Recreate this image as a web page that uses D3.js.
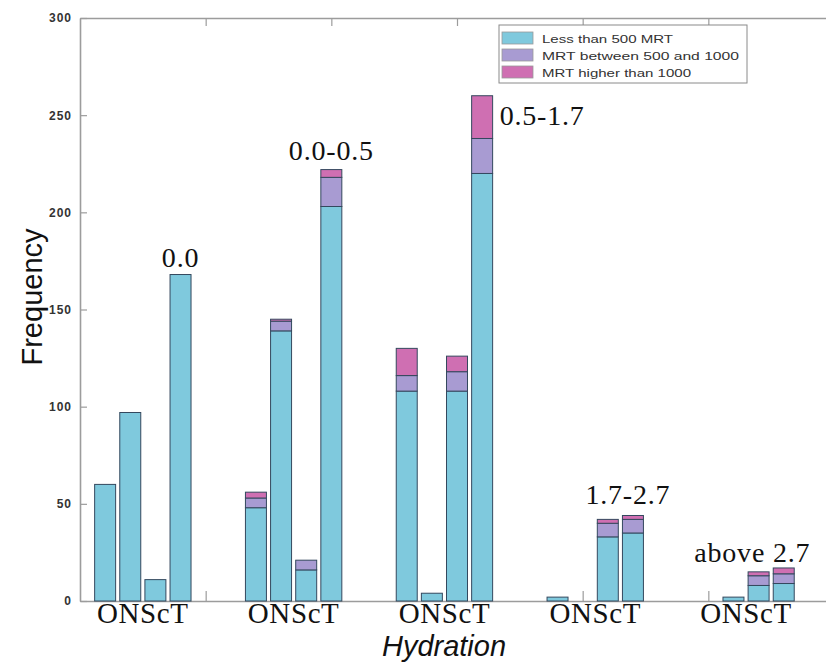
<!DOCTYPE html>
<html>
<head>
<meta charset="utf-8">
<script src="https://cdn.jsdelivr.net/npm/d3@7"></script>
<style>
  html, body { margin: 0; padding: 0; background: #fff; }
  svg { display: block; }
</style>
</head>
<body>
<svg id="chart" width="826" height="664"></svg>
<script>
// Hydration classes, one cluster of four bars (O, N, Sc, T) per class
const hydrationClasses = ["0.0", "0.0-0.5", "0.5-1.7", "1.7-2.7", "above 2.7"];
const clusterCentres = [0.5, 1.7, 2.9, 4.1, 5.3];
const clusterLabel = "ONScT";

// x value of every bar that is drawn
const barX = [0.2, 0.4, 0.6, 0.8,  1.4, 1.6, 1.8, 2.0,  2.6, 2.8, 3.0, 3.2,  3.8, 4.2, 4.4,  5.2, 5.4, 5.6];

// stacked frequencies per bar
const lessThan500       = [60, 97, 11, 168,  48, 139, 16, 203,  108, 4, 108, 220,  2, 33, 35,  2, 8, 9];
const between500And1000 = [0, 0, 0, 0,       5, 5, 5, 15,       8, 0, 10, 18,      0, 7, 7,    0, 5, 5];
const higherThan1000    = [0, 0, 0, 0,       3, 1, 0, 4,        14, 0, 8, 22,      0, 2, 2,    0, 2, 3];

const seriesNames = ["Less than 500 MRT", "MRT between 500 and 1000", "MRT higher than 1000"];
const seriesKeys = ["low", "mid", "high"];
const yTicks = [0, 50, 100, 150, 200, 250, 300];
const xTicks = [1, 2, 3, 4, 5];

const colors = { low: "#7fc9dd", mid: "#a89bd2", high: "#cf6fb2" };

const svg = d3.select("#chart");
const x = d3.scaleLinear().domain([0, 6]).range([80, 834]);
const y = d3.scaleLinear().domain([0, 300]).range([601, 18]);
const frameColor = "#9c9c9c";

// frame axes with inward ticks
const gL = svg.append("g").attr("transform", `translate(${x(0)},0)`)
  .call(d3.axisLeft(y).tickValues(yTicks).tickSizeInner(-7).tickSizeOuter(0).tickPadding(8));
const gR = svg.append("g").attr("transform", `translate(${x(6)},0)`)
  .call(d3.axisRight(y).tickValues(yTicks).tickSizeInner(-7).tickSizeOuter(0).tickFormat(""));
const gT = svg.append("g").attr("transform", `translate(0,${y(300)})`)
  .call(d3.axisTop(x).tickValues(xTicks).tickSizeInner(-8).tickSizeOuter(0).tickFormat(""));
const gB = svg.append("g").attr("transform", `translate(0,${y(0)})`)
  .call(d3.axisBottom(x).tickValues(xTicks).tickSizeInner(-10).tickSizeOuter(0).tickFormat(""));

[gL, gR, gT, gB].forEach(g => {
  g.select(".domain").attr("stroke", frameColor).attr("stroke-width", 1.6);
  g.selectAll(".tick line").attr("stroke", frameColor).attr("stroke-width", 1.2);
});
gL.selectAll(".tick text")
  .attr("font-family", "Liberation Sans, Arial, sans-serif")
  .attr("font-size", 12).attr("font-weight", "bold")
  .attr("letter-spacing", 1).attr("fill", "#333");

// stacked bars
const table = barX.map((bx, i) => ({ x: bx, low: lessThan500[i], mid: between500And1000[i], high: higherThan1000[i] }));
const stacked = d3.stack().keys(seriesKeys)(table);
const halfW = (x(0.0835) - x(0));

stacked.forEach(layer => {
  svg.append("g").selectAll("rect")
    .data(layer.filter(d => d[1] - d[0] > 0))
    .join("rect")
    .attr("x", d => x(d.data.x) - halfW)
    .attr("width", halfW * 2)
    .attr("y", d => y(d[1]))
    .attr("height", d => y(d[0]) - y(d[1]))
    .attr("fill", colors[layer.key])
    .attr("stroke", "#34485e")
    .attr("stroke-width", 1);
});

// cluster labels under the axis
svg.append("g").selectAll("text")
  .data(clusterCentres)
  .join("text")
  .attr("x", d => x(d))
  .attr("y", 623)
  .attr("text-anchor", "middle")
  .attr("font-family", "Liberation Serif, Times New Roman, serif")
  .attr("font-size", 29)
  .attr("letter-spacing", 0.6)
  .attr("fill", "#111")
  .text(clusterLabel);

// hydration class labels beside each cluster's tallest bar (baseline in data units)
const classLabelPlacement = [
  { x: 0.8,  v: 172, anchor: "middle" },
  { x: 2.0,  v: 227, anchor: "middle" },
  { x: 3.34, v: 245, anchor: "start" },
  { x: 4.36, v: 50,  anchor: "middle" },
  { x: 5.35, v: 20,  anchor: "middle" }
];
svg.append("g").selectAll("text")
  .data(hydrationClasses)
  .join("text")
  .attr("x", (d, i) => x(classLabelPlacement[i].x))
  .attr("y", (d, i) => y(classLabelPlacement[i].v))
  .attr("text-anchor", (d, i) => classLabelPlacement[i].anchor)
  .attr("font-family", "Liberation Serif, Times New Roman, serif")
  .attr("font-size", 28)
  .attr("letter-spacing", 0.8)
  .attr("fill", "#111")
  .text(d => d);

// axis titles
svg.append("text")
  .attr("transform", "translate(42,297) rotate(-90)")
  .attr("text-anchor", "middle")
  .attr("font-family", "Liberation Sans, Arial, sans-serif")
  .attr("font-size", 29)
  .attr("fill", "#111")
  .text("Frequency");

svg.append("text")
  .attr("x", 444).attr("y", 656)
  .attr("text-anchor", "middle")
  .attr("font-family", "Liberation Sans, Arial, sans-serif")
  .attr("font-style", "italic")
  .attr("font-size", 29)
  .attr("fill", "#111")
  .text("Hydration");

// legend
const legend = svg.append("g").attr("transform", "translate(499,25)");
legend.append("rect")
  .attr("width", 248).attr("height", 58)
  .attr("fill", "#fff").attr("stroke", "#8a8a8a").attr("stroke-width", 1);
const textLengths = [131, 197, 149];
seriesKeys.forEach((k, i) => {
  const row = legend.append("g").attr("transform", `translate(3,${7 + i * 17})`);
  row.append("rect").attr("width", 31).attr("height", 12)
    .attr("fill", colors[k]).attr("stroke", "#999").attr("stroke-width", 0.8);
  row.append("text")
    .attr("x", 40).attr("y", 11)
    .attr("font-family", "Liberation Sans, Arial, sans-serif")
    .attr("font-size", 11.5)
    .attr("fill", "#333")
    .attr("textLength", textLengths[i])
    .attr("lengthAdjust", "spacingAndGlyphs")
    .text(seriesNames[i]);
});
</script>
</body>
</html>
